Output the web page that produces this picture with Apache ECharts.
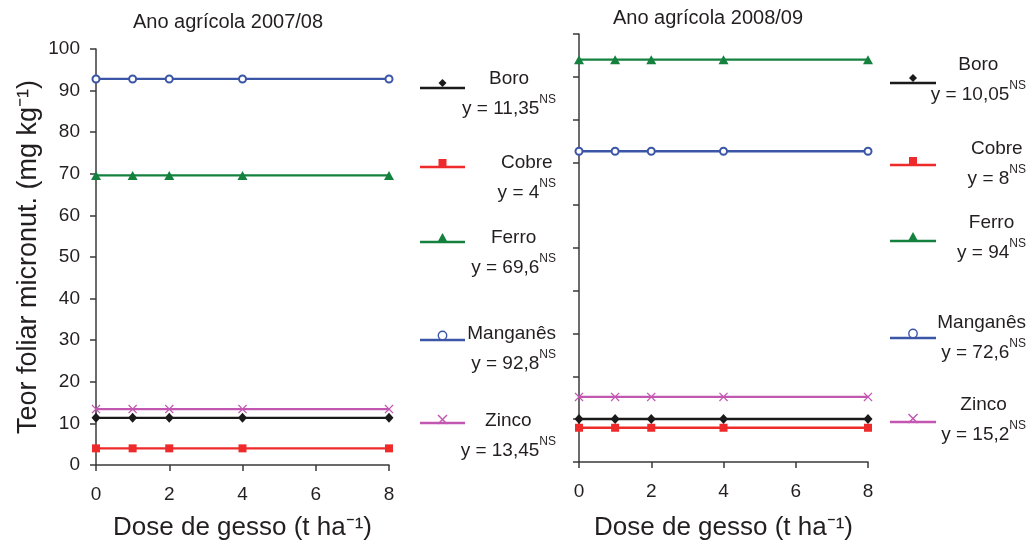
<!DOCTYPE html>
<html>
<head>
<meta charset="utf-8">
<script src="https://cdn.jsdelivr.net/npm/echarts@6/dist/echarts.min.js"></script>
<style>
  html, body { margin: 0; padding: 0; background: #ffffff; }
  #chart { width: 1030px; height: 546px; }
</style>
</head>
<body>
<div id="chart"></div>
<script>
// ---- Data ----------------------------------------------------------------
const doses = [0, 1, 2, 4, 8];                       // gypsum dose (t/ha)
const nutrients = ['Boro', 'Cobre', 'Ferro', 'Manganês', 'Zinco'];
const panelTitles = ['Ano agrícola 2007/08', 'Ano agrícola 2008/09'];
const xTickValues = [0, 2, 4, 6, 8];
const yTickValues = [0, 10, 20, 30, 40, 50, 60, 70, 80, 90, 100];

// Fitted (non-significant) means per season, same order as nutrients
const fit0708 = [11.35, 4, 69.6, 92.8, 13.45];
const fit0809 = [10.05, 8, 94, 72.6, 15.2];

// Leaf content at each dose, 2007/08
const boro0708     = [11.35, 11.35, 11.35, 11.35, 11.35];
const cobre0708    = [4, 4, 4, 4, 4];
const ferro0708    = [69.6, 69.6, 69.6, 69.6, 69.6];
const manganes0708 = [92.8, 92.8, 92.8, 92.8, 92.8];
const zinco0708    = [13.45, 13.45, 13.45, 13.45, 13.45];

// Leaf content at each dose, 2008/09
const boro0809     = [10.05, 10.05, 10.05, 10.05, 10.05];
const cobre0809    = [8, 8, 8, 8, 8];
const ferro0809    = [94, 94, 94, 94, 94];
const manganes0809 = [72.6, 72.6, 72.6, 72.6, 72.6];
const zinco0809    = [15.2, 15.2, 15.2, 15.2, 15.2];

const panelValues = [
  [boro0708, cobre0708, ferro0708, manganes0708, zinco0708],
  [boro0809, cobre0809, ferro0809, manganes0809, zinco0809]
];
const panelFits = [fit0708, fit0809];

// ---- Styling -------------------------------------------------------------
const FONT = "'Liberation Sans', Arial, Helvetica, sans-serif";
const TXT = '#231f20';
const AXIS = '#3a3a3a';
const colors = ['#1a1a1a', '#ee2a2a', '#15813f', '#3b56a6', '#c257b2'];
const crossPath = 'path://M1,0L5,4L9,0L10,1L6,5L10,9L9,10L5,6L1,10L0,9L4,5L0,1Z';
const symbols = ['diamond', 'rect', 'triangle', 'emptyCircle', crossPath];
const symbolSizes = [[9, 10], 8, [10, 9], 7, 9];

const grids = [
  { left: 96, top: 49, width: 293, height: 418 },
  { left: 579, top: 34, width: 289, height: 429 }
];
const xNameGaps = [50, 53];
const titlePos = [[228, 22], [708, 18]];

// legend block placement per panel
const legendLayout = [
  { lineX: [420, 465], textRight: 556, iconY: [88, 167, 242, 340, 423], textY: [94, 177.5, 253, 348.5, 436] },
  { lineX: [890, 936], textRight: 1026, iconY: [83, 165, 241, 338, 422], textY: [80, 163.5, 237.5, 338, 420] }
];

const fmt = v => String(v).replace('.', ',');

// ---- Axes ----------------------------------------------------------------
const xAxes = grids.map((g, p) => ({
  type: 'value', gridIndex: p,
  min: xTickValues[0], max: xTickValues[xTickValues.length - 1],
  interval: xTickValues[1] - xTickValues[0],
  name: 'Dose de gesso (t ha⁻¹)', nameLocation: 'middle', nameGap: xNameGaps[p],
  nameTextStyle: { fontFamily: FONT, fontSize: 26, color: TXT },
  axisLine: { show: true, onZero: false, lineStyle: { color: AXIS, width: 1.5 } },
  axisTick: { show: true, inside: false, length: 6, lineStyle: { color: AXIS, width: 1.5 } },
  axisLabel: { show: true, margin: 20, fontFamily: FONT, fontSize: 19, color: TXT },
  splitLine: { show: false }
}));

const yAxes = grids.map((g, p) => ({
  type: 'value', gridIndex: p,
  min: yTickValues[0], max: yTickValues[yTickValues.length - 1],
  interval: yTickValues[1] - yTickValues[0],
  name: p === 0 ? 'Teor foliar micronut. (mg kg⁻¹)' : '',
  nameLocation: 'middle', nameGap: 54, nameRotate: 90,
  nameTextStyle: { fontFamily: FONT, fontSize: 27, color: TXT },
  axisLine: { show: true, lineStyle: { color: AXIS, width: 1.5 } },
  axisTick: { show: true, inside: false, length: 6, lineStyle: { color: AXIS, width: 1.5 } },
  axisLabel: { show: p === 0, margin: 16, fontFamily: FONT, fontSize: 19, color: TXT },
  splitLine: { show: false }
}));

// ---- Series --------------------------------------------------------------
const series = [];
panelValues.forEach((vals, p) => {
  vals.forEach((arr, k) => {
    const isEmpty = symbols[k] === 'emptyCircle';
    series.push({
      type: 'line', name: nutrients[k],
      xAxisIndex: p, yAxisIndex: p,
      data: doses.map((d, i) => [d, arr[i]]),
      symbol: symbols[k], symbolSize: symbolSizes[k],
      showAllSymbol: true,
      lineStyle: { color: colors[k], width: 2.3 },
      itemStyle: isEmpty
        ? { color: colors[k], borderColor: colors[k], borderWidth: 1.4 }
        : { color: colors[k], borderWidth: 0 },
      z: 2 + (4 - k),
      animation: false,
      silent: true
    });
  });
});

// ---- Legend icons and equation labels -----------------------------------
function legendSymbol(k, cx, ly) {
  const c = colors[k];
  switch (k) {
    case 0: // diamond
      return { type: 'polygon', shape: { points: [[cx, ly - 9], [cx + 4, ly - 5], [cx, ly - 1], [cx - 4, ly - 5]] }, style: { fill: c } };
    case 1: // square
      return { type: 'rect', shape: { x: cx - 4, y: ly - 8, width: 8, height: 8 }, style: { fill: c } };
    case 2: // triangle
      return { type: 'polygon', shape: { points: [[cx, ly - 9], [cx + 5, ly], [cx - 5, ly]] }, style: { fill: c } };
    case 3: // empty circle
      return { type: 'circle', shape: { cx: cx, cy: ly - 4.5, r: 4.2 }, style: { fill: '#fff', stroke: c, lineWidth: 1.4 } };
    default: // cross
      return { type: 'group', children: [
        { type: 'line', shape: { x1: cx - 4.5, y1: ly - 8, x2: cx + 4.5, y2: ly + 1 }, style: { stroke: c, lineWidth: 1.5 } },
        { type: 'line', shape: { x1: cx + 4.5, y1: ly - 8, x2: cx - 4.5, y2: ly + 1 }, style: { stroke: c, lineWidth: 1.5 } }
      ] };
  }
}

const graphics = [];
panelTitles.forEach((t, p) => {
  graphics.push({
    type: 'text', x: titlePos[p][0], y: titlePos[p][1],
    style: { text: t, align: 'center', verticalAlign: 'middle', font: `20px ${FONT}`, fill: TXT }
  });
});

legendLayout.forEach((L, p) => {
  nutrients.forEach((name, k) => {
    const ly = L.iconY[k];
    const cx = (L.lineX[0] + L.lineX[1]) / 2;
    graphics.push({
      type: 'line',
      shape: { x1: L.lineX[0], y1: ly, x2: L.lineX[1], y2: ly },
      style: { stroke: colors[k], lineWidth: 2.3 }
    });
    graphics.push(legendSymbol(k, cx, ly));
    graphics.push({
      type: 'text', x: L.textRight, y: L.textY[k],
      style: {
        text: `{n|${name}}\n{e|y = ${fmt(panelFits[p][k])}}{s|NS}`,
        align: 'right', verticalAlign: 'middle',
        rich: {
          n: { fontFamily: FONT, fontSize: 19, lineHeight: 30, align: 'center', fill: TXT },
          e: { fontFamily: FONT, fontSize: 19, lineHeight: 30, align: 'right', fill: TXT },
          s: { fontFamily: FONT, fontSize: 12, lineHeight: 14, align: 'right', verticalAlign: 'top', fill: TXT }
        }
      }
    });
  });
});

const chart = echarts.init(document.getElementById('chart'), null, { renderer: 'canvas' });
chart.setOption({
  backgroundColor: '#ffffff',
  animation: false,
  grid: grids.map(g => Object.assign({ containLabel: false }, g)),
  xAxis: xAxes,
  yAxis: yAxes,
  series: series,
  graphic: graphics
});
</script>
</body>
</html>
